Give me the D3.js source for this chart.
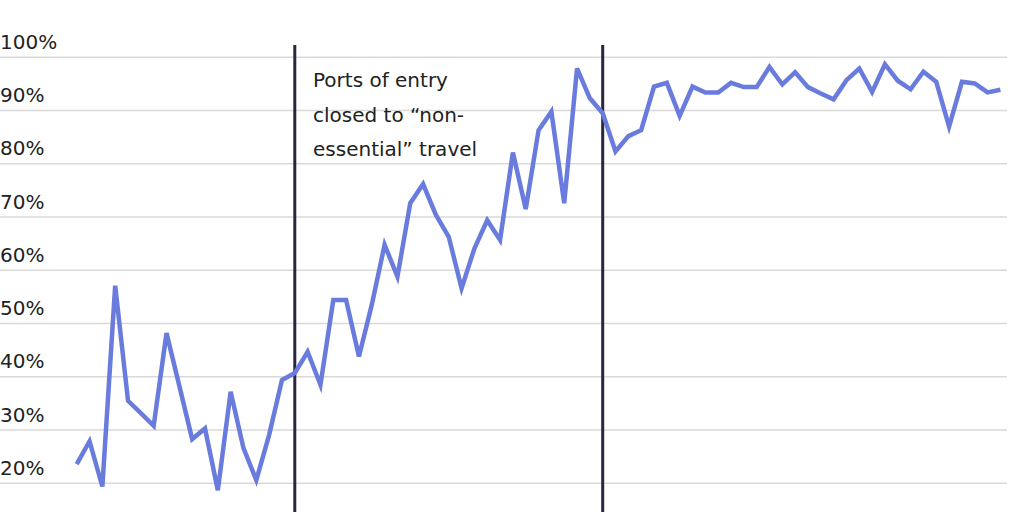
<!DOCTYPE html>
<html>
<head>
<meta charset="utf-8">
<script src="https://cdn.jsdelivr.net/npm/d3@7"></script>
<style>
  html, body { margin: 0; padding: 0; background: #fff; }
  svg { display: block; }
  text { font-family: "DejaVu Sans", sans-serif; }
</style>
</head>
<body>
<svg id="chart" width="1024" height="512"></svg>
<script>
// Share (%) by week index
const weeks = d3.range(73);
const shareValues = [
  23.6, 27.9, 19.4, 57.1, 35.5, 33.2, 30.8, 48.2, 38.3, 28.3,
  30.3, 18.7, 37.2, 26.6, 20.6, 29.1, 39.4, 40.7, 44.7, 38.5,
  54.4, 54.4, 43.8, 53.5, 64.8, 58.8, 72.6, 76.2, 70.4, 66.3,
  56.6, 64.1, 69.4, 65.7, 82.1, 71.5, 86.3, 89.8, 72.6, 97.9,
  92.3, 89.5, 82.3, 85.2, 86.3, 94.5, 95.2, 89.0, 94.5, 93.4,
  93.4, 95.2, 94.4, 94.4, 98.2, 94.9, 97.2, 94.4, 93.2, 92.1,
  95.7, 97.9, 93.5, 98.7, 95.6, 94.0, 97.3, 95.4, 87.0, 95.4,
  95.1, 93.4, 93.9
];
const yTicks = [0, 10, 20, 30, 40, 50, 60, 70, 80, 90, 100];
const eventWeeks = [17, 41];
const annotationLines = ["Ports of entry", "closed to \u201cnon-", "essential\u201d travel"];

const svg = d3.select("#chart");

const x = d3.scaleLinear().domain([0, 72]).range([76.7, 1000.4]);
const y = d3.scaleLinear().domain([0, 100]).range([589.8, 57.3]);

// gridlines
svg.append("g").selectAll("line").data(yTicks).join("line")
  .attr("x1", 0).attr("x2", 1007)
  .attr("y1", d => y(d)).attr("y2", d => y(d))
  .attr("stroke", "#d9d9d9").attr("stroke-width", 1.5);

// tick labels
svg.append("g").selectAll("text").data(yTicks).join("text")
  .attr("x", 0).attr("y", d => y(d) - 8.5)
  .attr("font-size", 20).attr("fill", "#222")
  .text(d => d + "%");

// event lines
svg.append("g").selectAll("line").data(eventWeeks).join("line")
  .attr("x1", d => x(d)).attr("x2", d => x(d))
  .attr("y1", 45).attr("y2", 512)
  .attr("stroke", "#2a2540").attr("stroke-width", 3);

// annotation
svg.append("text")
  .attr("x", 313).attr("y", 87.3)
  .attr("font-size", 20).attr("fill", "#222")
  .selectAll("tspan").data(annotationLines).join("tspan")
  .attr("x", 313).attr("dy", (d, i) => i === 0 ? 0 : 34.5)
  .text(d => d);

// line
const line = d3.line().x((d, i) => x(weeks[i])).y(d => y(d));
svg.append("path")
  .datum(shareValues)
  .attr("d", line)
  .attr("fill", "none")
  .attr("stroke", "#6a7bde")
  .attr("stroke-width", 4.5)
  .attr("stroke-linejoin", "miter");
</script>
</body>
</html>
